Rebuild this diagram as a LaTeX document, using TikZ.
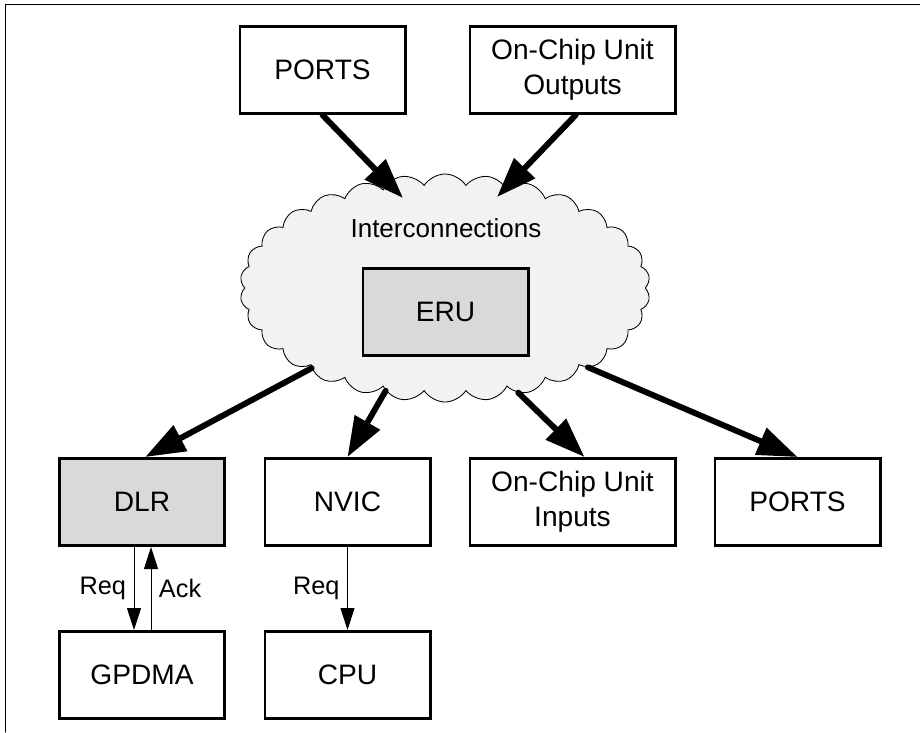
\documentclass[tikz,border=0pt]{standalone}
\usepackage{fontspec}
\setmainfont{Liberation Sans}
\usetikzlibrary{arrows.meta,shapes.symbols}

\begin{document}
\begin{tikzpicture}[x=0.025cm,y=-0.025cm,line cap=round,
  box/.style={draw,line width=2.1pt,line cap=butt,minimum width=4.125cm,minimum height=2.175cm,inner sep=0pt,align=center,font=\fontsize{20}{25}\selectfont},
  shaded/.style={box,fill=gray!30},
  bigarrow/.style={line width=4.2pt,-{Triangle[length=10mm,width=7mm]}},
  thinarrow/.style={line width=0.7pt,-{Triangle[length=5.5mm,width=3.5mm]}},
  lbl/.style={font=\fontsize{18}{22}\selectfont}]
\useasboundingbox (0,0) rectangle (920,732);
\draw[line width=1pt] (5.5,732) -- (5.5,4.5) -- (920,4.5);
\node[cloud,draw,fill=gray!10,line width=0.6pt,cloud puffs=30,cloud puff arc=115,cloud ignores aspect,minimum width=10.25cm,minimum height=5.7cm] (icloud) at (445,288) {};
\node[font=\fontsize{18.5}{23}\selectfont] (inter) at (446,228) {Interconnections};
\node[shaded] (eru) at (445.5,312) {ERU};
\node[box] (portsin) at (322.5,70) {PORTS};
\node[box,minimum width=5.125cm] (unitout) at (572.5,70) {On-Chip Unit\\Outputs};
\node[shaded] (dlr) at (142,502) {DLR};
\node[box] (nvic) at (347.5,502) {NVIC};
\node[box,minimum width=5.125cm] (unitin) at (572.5,502) {On-Chip Unit\\Inputs};
\node[box] (portsout) at (797.5,502) {PORTS};
\node[box] (gpdma) at (142,675) {GPDMA};
\node[box] (cpu) at (347.5,675) {CPU};
\coordinate (hitl) at (403,198);
\coordinate (hitr) at (497,197);
\draw[bigarrow] (portsin.south) -- (hitl);
\draw[bigarrow] ([xshift=0.08cm]unitout.south) -- (hitr);
\draw[bigarrow] (icloud.211) -- ([xshift=0.08cm]dlr.north);
\draw[bigarrow] (icloud.240) -- (nvic.north);
\draw[bigarrow] (icloud.305) -- ([xshift=0.3cm]unitin.north);
\draw[bigarrow] (icloud.331) -- (portsout.north);
\draw[thinarrow] ([xshift=-0.2cm]dlr.south) -- node[lbl,left=2pt] {Req} ([xshift=-0.2cm]gpdma.north);
\draw[thinarrow] ([xshift=0.225cm]gpdma.north) -- node[lbl,right=2pt] {Ack} ([xshift=0.225cm]dlr.south);
\draw[thinarrow] (nvic.south) -- node[lbl,left=2pt] {Req} (cpu.north);
\end{tikzpicture}
\end{document}
